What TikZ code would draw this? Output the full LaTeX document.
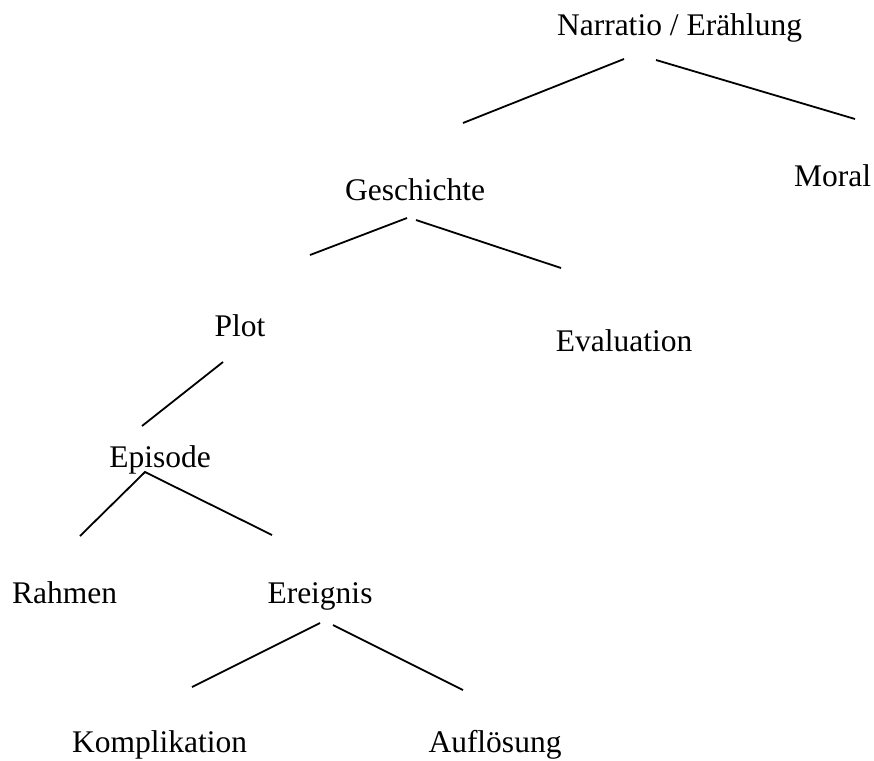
\documentclass[tikz,border=0pt]{standalone}
\usepackage{fontspec}
\setmainfont{Liberation Serif}
\begin{document}
\begin{tikzpicture}[x=1pt,y=-1pt,
  lbl/.style={anchor=base,inner sep=0pt,font=\fontsize{31.5}{36}\selectfont},
  edge/.style={line width=1.8pt,line cap=butt}]
\useasboundingbox (0,0) rectangle (874,760);
% labels
\node[lbl] (narr) at (679.5,36) {Narratio / Erählung};
\node[lbl] (moral) at (832.5,186) {Moral};
\node[lbl] (gesch) at (415,200) {Geschichte};
\node[lbl] (eval) at (624,351) {Evaluation};
\node[lbl] (plot) at (240,336) {Plot};
\node[lbl] (epis) at (160,467) {Episode};
\node[lbl] (rahm) at (64.5,603) {Rahmen};
\node[lbl] (ereig) at (320,603) {Ereignis};
\node[lbl] (kompl) at (159.5,752) {Komplikation};
\node[lbl] (aufl) at (495,752) {Auflösung};
% connector end points
\coordinate (narrL) at (624,59);
\coordinate (narrLe) at (463,123);
\coordinate (narrR) at (656,60);
\coordinate (narrRe) at (855,119);
\coordinate (geschL) at (407,218);
\coordinate (geschLe) at (310,255);
\coordinate (geschR) at (416,220);
\coordinate (geschRe) at (561,268);
\coordinate (plotS) at (223,362);
\coordinate (plotE) at (142,426);
\coordinate (episS) at (145,472);
\coordinate (episLe) at (80,536);
\coordinate (episRe) at (272,535);
\coordinate (ereigL) at (320,623);
\coordinate (ereigLe) at (192,687);
\coordinate (ereigR) at (333,625);
\coordinate (ereigRe) at (463,690);
% connectors
\draw[edge] (narrL) -- (narrLe);
\draw[edge] (narrR) -- (narrRe);
\draw[edge] (geschL) -- (geschLe);
\draw[edge] (geschR) -- (geschRe);
\draw[edge] (plotS) -- (plotE);
\draw[edge] (episLe) -- (episS) -- (episRe);
\draw[edge] (ereigL) -- (ereigLe);
\draw[edge] (ereigR) -- (ereigRe);
\end{tikzpicture}
\end{document}
